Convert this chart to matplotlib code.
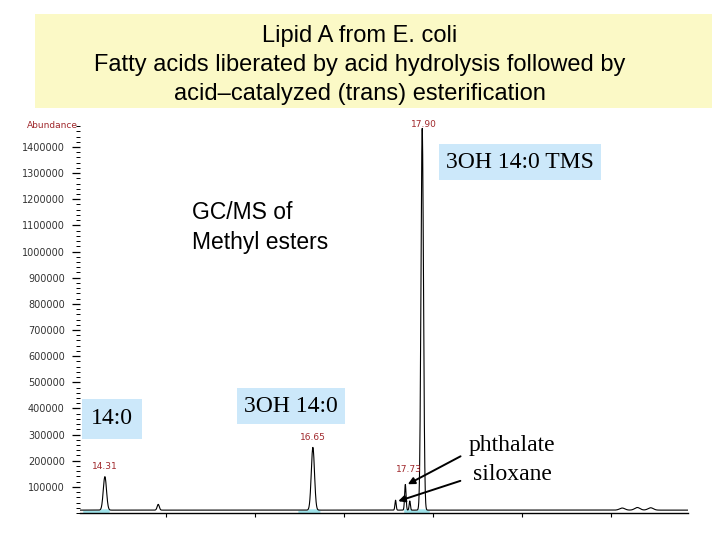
import numpy as np
import matplotlib
matplotlib.use("Agg")
import matplotlib.pyplot as plt
from matplotlib.patches import Rectangle
from matplotlib.ticker import MultipleLocator, FixedLocator

# retention time (min), height (abundance) and width (min) of each peak
peak_times = [14.31, 14.91, 16.65, 17.58, 17.69, 17.74, 17.88, 20.13, 20.30, 20.45]
peak_heights = [128000, 22000, 240000, 38000, 98000, 35000, 1460000, 8000, 10000, 9000]
peak_widths = [0.018, 0.012, 0.018, 0.007, 0.008, 0.007, 0.014, 0.03, 0.03, 0.03]
baseline = 11000

# integrated windows (cyan shading near the baseline)
fill_windows = [(14.06, 14.36), (16.48, 16.73), (17.67, 17.96)]
fill_top = 16000

# labelled peaks
label_times = [14.31, 16.65, 17.73, 17.90]
label_texts = ["14.31", "16.65", "17.73", "17.90"]
label_heights = [160000, 272000, 150000, 1470000]

y_ticks = list(range(100000, 1400001, 100000))
x_ticks = [15, 16, 17, 18, 19, 20]

W, H = 720, 540


def fx(px):
    return px / W


def fy(py):
    return 1 - py / H


fig = plt.figure(figsize=(7.2, 5.4), dpi=100)
fig.patch.set_facecolor("white")

# title box
fig.patches.append(Rectangle((fx(35), fy(108)), fx(712) - fx(35), fy(14) - fy(108),
                             transform=fig.transFigure, facecolor="#fbf9c6",
                             edgecolor="none", zorder=0))
title_lines = ["Lipid A from E. coli",
               "Fatty acids liberated by acid hydrolysis followed by",
               "acid\u2013catalyzed (trans) esterification"]
for i, line in enumerate(title_lines):
    fig.text(fx(360), fy(36 + 29 * i), line, ha="center", va="center",
             fontsize=17, family="Liberation Sans")

# chromatogram
ax = fig.add_axes([fx(80), fy(513), fx(688) - fx(80), fy(125) - fy(513)])
x = np.linspace(14.03, 20.87, 4000)
y = np.full_like(x, baseline, dtype=float)
for t, h, w in zip(peak_times, peak_heights, peak_widths):
    y += h * np.exp(-0.5 * ((x - t) / w) ** 2)

for a, b in fill_windows:
    m = (x >= a) & (x <= b)
    ax.fill_between(x[m], 0, np.minimum(y[m], fill_top), color="#9fe3ea", lw=0, zorder=1)
ax.plot(x, y, color="black", lw=0.8, zorder=2)

ax.set_xlim(14.03, 20.87)
ax.set_ylim(0, 1484000)
ax.spines["top"].set_visible(False)
ax.spines["right"].set_visible(False)
ax.spines["left"].set_visible(False)
ax.spines["bottom"].set_linewidth(1.0)

ax.yaxis.set_major_locator(FixedLocator(y_ticks))
ax.yaxis.set_minor_locator(MultipleLocator(20000))
ax.set_yticklabels([str(v) for v in y_ticks])
ax.tick_params(axis="y", which="major", length=6, width=0.9, labelsize=7,
               labelcolor="#333333", pad=5)
ax.tick_params(axis="y", which="minor", length=3, width=0.7)
ax.xaxis.set_major_locator(FixedLocator(x_ticks))
ax.tick_params(axis="x", which="major", length=3, width=0.8, labelbottom=False)
ax.patch.set_alpha(0)

ax.text(-0.003, 1.0, "Abundance", transform=ax.transAxes, ha="right", va="center",
        fontsize=6.5, color="#a0282c")
for t, s, h in zip(label_times, label_texts, label_heights):
    ax.text(t, h, s, ha="center", va="bottom", fontsize=6.5, color="#a0282c")

# boxed labels
box_style = dict(boxstyle="square,pad=0.3", facecolor="#cce8fa", edgecolor="none")
fig.text(fx(520), fy(162), "3OH 14:0 TMS", ha="center", va="center", fontsize=17,
         family="Liberation Serif", bbox=box_style)
fig.text(fx(112), fy(419), "14:0", ha="center", va="center", fontsize=17,
         family="Liberation Serif", bbox=dict(boxstyle="square,pad=0.4",
                                              facecolor="#cce8fa", edgecolor="none"))
fig.text(fx(291), fy(406), "3OH 14:0", ha="center", va="center", fontsize=17,
         family="Liberation Serif", bbox=box_style)

fig.text(fx(192), fy(213), "GC/MS of", ha="left", va="center", fontsize=16.5,
         family="Liberation Sans")
fig.text(fx(192), fy(243), "Methyl esters", ha="left", va="center", fontsize=16.5,
         family="Liberation Sans")

fig.text(fx(512), fy(446), "phthalate", ha="center", va="center", fontsize=17,
         family="Liberation Serif")
fig.text(fx(512), fy(474), "siloxane", ha="center", va="center", fontsize=17,
         family="Liberation Serif")

arrow = dict(arrowstyle="-|>", color="black", lw=1.4, mutation_scale=10)
ax.annotate("", xy=(17.69, 105000), xycoords="data",
            xytext=(fx(463), fy(455)), textcoords="figure fraction", arrowprops=arrow)
ax.annotate("", xy=(17.58, 42000), xycoords="data",
            xytext=(fx(463), fy(480)), textcoords="figure fraction", arrowprops=arrow)

fig.savefig("out.png", dpi=100)
